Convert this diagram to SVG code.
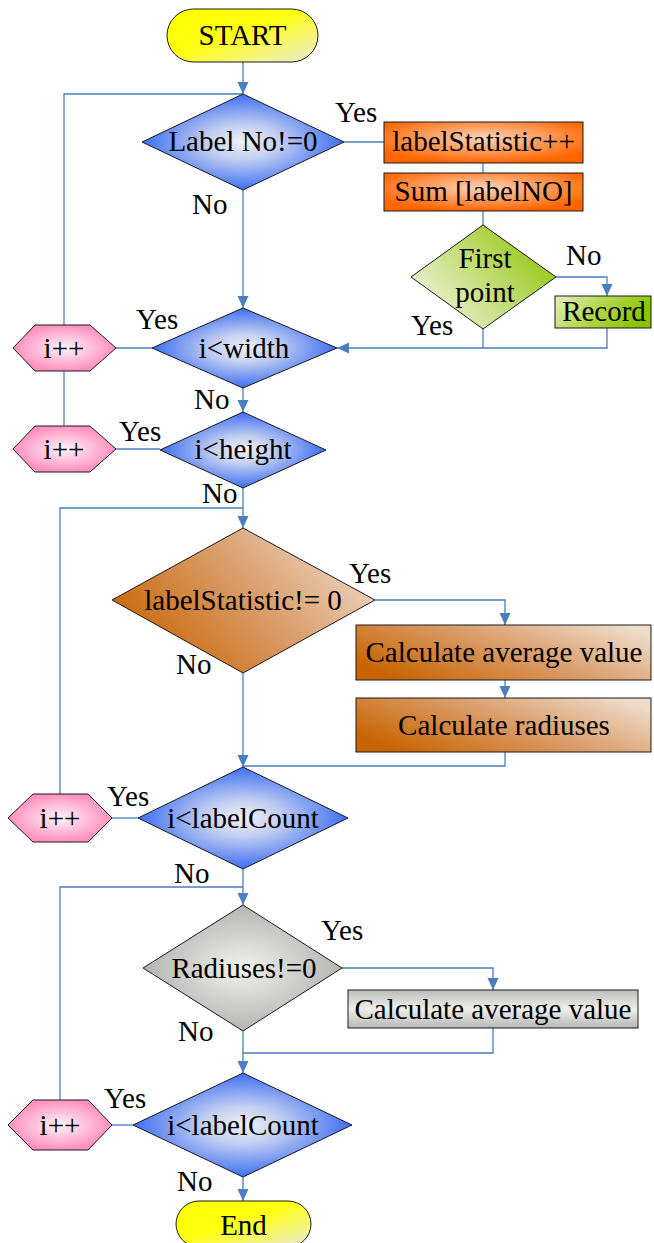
<svg xmlns="http://www.w3.org/2000/svg" width="654" height="1243" viewBox="0 0 654 1243" font-family="'Liberation Serif', 'Times New Roman', serif">
  <defs>
    <linearGradient id="gYellow" x1="0" y1="0" x2="1" y2="1">
      <stop offset="0" stop-color="#ffff00"/>
      <stop offset="0.45" stop-color="#ffff10"/>
      <stop offset="1" stop-color="#ecebd8"/>
    </linearGradient>
    <radialGradient id="gBlue" cx="0.5" cy="0.5" r="0.5">
      <stop offset="0" stop-color="#eef0f6"/>
      <stop offset="0.35" stop-color="#c4d0f2"/>
      <stop offset="1" stop-color="#3d6ef2"/>
    </radialGradient>
    <radialGradient id="gPink" cx="0.5" cy="0.5" r="0.5">
      <stop offset="0" stop-color="#fff4f8"/>
      <stop offset="1" stop-color="#ff8fbf"/>
    </radialGradient>
    <radialGradient id="gOrange" cx="0.5" cy="0.4" r="0.6">
      <stop offset="0" stop-color="#ffd4bc"/>
      <stop offset="1" stop-color="#ff6600"/>
    </radialGradient>
    <linearGradient id="gGreenD" x1="1" y1="0.2" x2="0" y2="0.8">
      <stop offset="0" stop-color="#8cc400"/>
      <stop offset="0.4" stop-color="#b8d860"/>
      <stop offset="1" stop-color="#f2f6e4"/>
    </linearGradient>
    <linearGradient id="gGreenR" x1="0" y1="0" x2="1" y2="0.3">
      <stop offset="0" stop-color="#e4f0c0"/>
      <stop offset="0.5" stop-color="#b4d850"/>
      <stop offset="1" stop-color="#8cc400"/>
    </linearGradient>
    <linearGradient id="gBrown" x1="0" y1="0.7" x2="1" y2="0.2">
      <stop offset="0" stop-color="#c86400"/>
      <stop offset="0.55" stop-color="#dba070"/>
      <stop offset="1" stop-color="#eedcca"/>
    </linearGradient>
    <radialGradient id="gGray" cx="0.5" cy="0.5" r="0.5">
      <stop offset="0" stop-color="#f2f2ec"/>
      <stop offset="1" stop-color="#b4b4b4"/>
    </radialGradient>
    <linearGradient id="gGrayBox" x1="0" y1="0" x2="0" y2="1">
      <stop offset="0" stop-color="#bcbcbc"/>
      <stop offset="0.5" stop-color="#efefea"/>
      <stop offset="1" stop-color="#b6b6b6"/>
    </linearGradient>
    <marker id="arrow" markerUnits="userSpaceOnUse" markerWidth="12" markerHeight="14" viewBox="0 0 12 14" refX="12" refY="7" orient="auto">
      <path d="M0,1.5 L12,7 L0,12.5 Z" fill="#4a7ebf"/>
    </marker>
  </defs>
  <style>
    .shape { stroke: #1a1a1a; stroke-width: 1; }
    text { font-family: 'Liberation Serif', 'Times New Roman', serif; font-size: 29px; fill: #000; }
    .txt { text-anchor: middle; }
    .conn { fill: none; stroke: #4a7ebf; stroke-width: 1.3; }
    .arr { marker-end: url(#arrow); }
  </style>

  <!-- connectors -->
  <g id="connectors">
    <path class="conn arr" d="M243,62 V94"/>
    <path class="conn" d="M64,325 V94 H243"/>
    <path class="conn" d="M344,142 H384"/>
    <path class="conn" d="M483,163 V173"/>
    <path class="conn" d="M483,211 V225"/>
    <path class="conn arr" d="M556,277 H607 V296"/>
    <path class="conn arr" d="M607,328 V348 H337"/>
    <path class="conn" d="M483,329 V348"/>
    <path class="conn arr" d="M243,190 V308"/>
    <path class="conn" d="M116,348 H152"/>
    <path class="conn" d="M64,426 V371"/>
    <path class="conn arr" d="M243,388 V412"/>
    <path class="conn" d="M116,449 H160"/>
    <path class="conn arr" d="M243,487 V528"/>
    <path class="conn" d="M60,794 V508 H243"/>
    <path class="conn arr" d="M375,600 H505 V625"/>
    <path class="conn arr" d="M505,680 V698"/>
    <path class="conn" d="M505,752 V766 H243"/>
    <path class="conn arr" d="M243,673 V767"/>
    <path class="conn" d="M112,818 H138"/>
    <path class="conn arr" d="M243,869 V905"/>
    <path class="conn" d="M60,1100 V887 H243"/>
    <path class="conn arr" d="M342,968 H493 V990"/>
    <path class="conn" d="M493,1028 V1053 H243"/>
    <path class="conn arr" d="M243,1031 V1073"/>
    <path class="conn" d="M112,1125 H133"/>
    <path class="conn arr" d="M243,1177 V1201"/>
  </g>

  <!-- branch labels -->
  <g id="labels">
    <text x="335" y="122">Yes</text>
    <text x="192" y="214">No</text>
    <text x="566" y="265">No</text>
    <text x="411" y="335">Yes</text>
    <text x="136" y="329">Yes</text>
    <text x="194" y="409">No</text>
    <text x="119" y="441">Yes</text>
    <text x="202" y="503">No</text>
    <text x="349" y="583">Yes</text>
    <text x="176" y="674">No</text>
    <text x="107" y="806">Yes</text>
    <text x="174" y="883">No</text>
    <text x="321" y="940">Yes</text>
    <text x="178" y="1041">No</text>
    <text x="104" y="1108">Yes</text>
    <text x="177" y="1191">No</text>
  </g>

  <g id="start">
    <rect class="shape" x="167" y="9" width="151" height="53" rx="26.5" fill="url(#gYellow)"/>
    <text class="txt" x="242.5" y="45">START</text>
  </g>

  <g id="label-no">
    <polygon class="shape" points="243,94 344,142 243,190 142,142" fill="url(#gBlue)"/>
    <text class="txt" x="243" y="151">Label No!=0</text>
  </g>

  <g id="label-statistic-inc">
    <rect class="shape" x="384" y="122" width="199" height="41" fill="url(#gOrange)"/>
    <text class="txt" x="483.5" y="151">labelStatistic++</text>
  </g>

  <g id="sum-label">
    <rect class="shape" x="384" y="173" width="199" height="38" fill="url(#gOrange)"/>
    <text class="txt" x="483.5" y="201">Sum [labelNO]</text>
  </g>

  <g id="first-point">
    <polygon class="shape" points="483,225 556,277 483,329 411,277" fill="url(#gGreenD)"/>
    <text class="txt" x="485" y="268">First</text>
    <text class="txt" x="485" y="302">point</text>
  </g>

  <g id="record">
    <rect class="shape" x="555" y="296" width="96" height="32" fill="url(#gGreenR)"/>
    <text class="txt" x="604" y="321">Record</text>
  </g>

  <g id="i-width">
    <polygon class="shape" points="243,308 337,348 243,388 152,348" fill="url(#gBlue)"/>
    <text class="txt" x="244" y="358">i&lt;width</text>
  </g>

  <g id="inc-1">
    <polygon class="shape" points="13,348 35,325 90,325 116,348 90,371 35,371" fill="url(#gPink)"/>
    <text class="txt" x="64" y="358">i++</text>
  </g>

  <g id="i-height">
    <polygon class="shape" points="243,412 326,450 243,488 160,450" fill="url(#gBlue)"/>
    <text class="txt" x="243" y="459">i&lt;height</text>
  </g>

  <g id="inc-2">
    <polygon class="shape" points="13,449 35,426 90,426 116,449 90,472 35,472" fill="url(#gPink)"/>
    <text class="txt" x="64" y="459">i++</text>
  </g>

  <g id="label-statistic-check">
    <polygon class="shape" points="243,528 375,600 243,673 112,600" fill="url(#gBrown)"/>
    <text class="txt" x="243" y="610">labelStatistic!= 0</text>
  </g>

  <g id="calc-average-1">
    <rect class="shape" x="356" y="625" width="295" height="55" fill="url(#gBrown)"/>
    <text class="txt" x="504" y="662">Calculate average value</text>
  </g>

  <g id="calc-radiuses">
    <rect class="shape" x="356" y="698" width="295" height="54" fill="url(#gBrown)"/>
    <text class="txt" x="504" y="735">Calculate radiuses</text>
  </g>

  <g id="i-labelcount-1">
    <polygon class="shape" points="243,767 348,818 243,869 138,818" fill="url(#gBlue)"/>
    <text class="txt" x="243" y="828">i&lt;labelCount</text>
  </g>

  <g id="inc-3">
    <polygon class="shape" points="8,818 33,794 88,794 112,818 88,842 33,842" fill="url(#gPink)"/>
    <text class="txt" x="60" y="828">i++</text>
  </g>

  <g id="radiuses-check">
    <polygon class="shape" points="243,905 342,968 243,1031 143,968" fill="url(#gGray)"/>
    <text class="txt" x="244" y="978">Radiuses!=0</text>
  </g>

  <g id="calc-average-2">
    <rect class="shape" x="348" y="990" width="290" height="38" fill="url(#gGrayBox)"/>
    <text class="txt" x="493" y="1019">Calculate average value</text>
  </g>

  <g id="i-labelcount-2">
    <polygon class="shape" points="243,1073 352,1125 243,1177 133,1125" fill="url(#gBlue)"/>
    <text class="txt" x="243" y="1135">i&lt;labelCount</text>
  </g>

  <g id="inc-4">
    <polygon class="shape" points="8,1125 33,1100 88,1100 112,1125 88,1150 33,1150" fill="url(#gPink)"/>
    <text class="txt" x="60" y="1135">i++</text>
  </g>

  <g id="end">
    <rect class="shape" x="176" y="1201" width="135" height="46" rx="23" fill="url(#gYellow)"/>
    <text class="txt" x="243.5" y="1235">End</text>
  </g>
</svg>
